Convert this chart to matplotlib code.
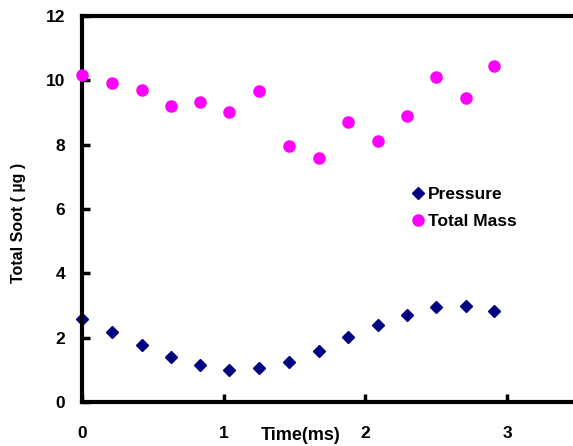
import numpy as np
import matplotlib.pyplot as plt

# time steps (ms)
time = [0.0, 0.21, 0.42, 0.63, 0.83, 1.04, 1.25, 1.46, 1.67, 1.88, 2.09, 2.29, 2.50, 2.71, 2.91]
pressure = [2.58, 2.18, 1.77, 1.40, 1.14, 0.98, 1.05, 1.24, 1.58, 2.01, 2.39, 2.72, 2.96, 2.99, 2.84]
total_mass = [10.16, 9.92, 9.69, 9.19, 9.32, 9.02, 9.66, 7.95, 7.58, 8.70, 8.11, 8.89, 10.11, 9.46, 10.46]

xticks = [0, 1, 2, 3]
yticks = [0, 2, 4, 6, 8, 10, 12]

plt.rcParams['font.family'] = ['Liberation Sans', 'DejaVu Sans']
plt.rcParams['font.weight'] = 'bold'

fig = plt.figure(figsize=(5.73, 4.46), dpi=100)
ax = fig.add_axes([82/573, 1-402/446, 496/573, 386/446])

ax.plot(time, pressure, linestyle='none', marker='D', color='#000080', markersize=6, label='Pressure', clip_on=False)
ax.plot(time, total_mass, linestyle='none', marker='o', color='#FF00FF', markersize=8, label='Total Mass', clip_on=False, zorder=3)

ax.set_xlim(0, 3.5)
ax.set_ylim(0, 12)
ax.set_xticks(xticks)
ax.set_yticks(yticks)
ax.tick_params(direction='in', length=6, width=2.5, labelsize=12.5)
ax.tick_params(axis='x', pad=17)
ax.tick_params(axis='y', pad=12)
for lab in ax.get_xticklabels() + ax.get_yticklabels():
    lab.set_fontweight('bold')

for s in ['left', 'bottom', 'top']:
    ax.spines[s].set_linewidth(3)
ax.spines['right'].set_visible(False)

ax.set_xlabel('Time(ms)', fontsize=13, fontweight='bold')
ax.xaxis.set_label_coords(0.44, -0.066)
ax.set_ylabel('Total Soot ( µg )', fontsize=11.5, fontweight='bold')
ax.yaxis.set_label_coords(-0.113, 0.464)

ax.legend(loc='upper left', bbox_to_anchor=(0.645, 0.575), frameon=False, fontsize=12.5,
          handletextpad=0.1, handlelength=1.0, labelspacing=0.7, borderaxespad=0)

fig.savefig('out.png', dpi=100)
